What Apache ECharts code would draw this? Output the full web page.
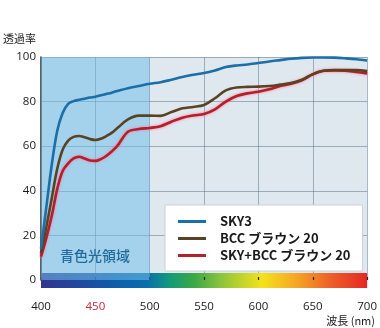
<!DOCTYPE html>
<html>
<head>
<meta charset="utf-8">
<script src="https://cdn.jsdelivr.net/npm/echarts@6/dist/echarts.min.js"></script>
<style>
  html, body { margin: 0; padding: 0; background: #ffffff; }
  #chart { width: 380px; height: 328px; }
</style>
</head>
<body>
<div id="chart"></div>
<script>
// Wavelength samples (nm)
const wavelengths = [400, 405, 410, 415, 420, 425, 430, 435, 440, 445, 450, 455, 460, 465, 470,
  480, 490, 500, 510, 520, 530, 540, 550, 560, 570, 580, 590, 600, 610, 620, 630, 640, 650,
  660, 670, 680, 690, 700];

// Transmittance (%) per lens
const sky3 = [14, 33, 52, 67, 75, 79, 80.2, 80.8, 81.3, 81.8, 82.2, 82.8, 83.4, 84, 84.7,
  86, 87, 88, 88.7, 89.8, 91, 92, 92.8, 94, 95.5, 96.2, 96.6, 97.3, 98, 98.6, 99.2, 99.6, 99.8,
  99.8, 99.7, 99.4, 99, 98.4];
const bccBrown20 = [12, 24, 37, 50, 58.5, 62.5, 64.2, 64.6, 64, 63.2, 62.8, 63.3, 64.5, 66, 68,
  72, 73.7, 73.7, 73.6, 75.3, 77, 77.6, 78.5, 81.5, 85, 86.3, 86.6, 86.7, 87, 87.6, 88.3, 89.8, 92.3,
  93.8, 94.2, 94.2, 94.1, 93.7];
const skyBccBrown20 = [10.5, 19, 29, 41, 49, 52.3, 54.5, 55.3, 54.5, 53.6, 53.4, 54.2, 55.6, 57.6, 60,
  66.5, 67.7, 68.2, 69, 71, 72.8, 73.8, 74.4, 76.5, 80, 82.5, 83.7, 84.4, 85.5, 87, 88, 89.6, 92.2,
  93.8, 94, 93.8, 93.3, 92.6];

const seriesNames = ['SKY3', 'BCC ブラウン 20', 'SKY+BCC ブラウン 20'];
const xTicks = [400, 450, 500, 550, 600, 650, 700];
const yTicks = [0, 20, 40, 60, 80, 100];
const blueBand = [400, 500];

const pairs = arr => wavelengths.map((w, i) => [w, arr[i]]);

const chart = echarts.init(document.getElementById('chart'), null, { renderer: 'canvas' });

// Visible-spectrum strip under the wavelength axis
const spectrum = new echarts.graphic.LinearGradient(0, 0, 1, 0, [
  { offset: 0.00, color: '#33318e' },
  { offset: 0.12, color: '#23469e' },
  { offset: 0.25, color: '#0c60ab' },
  { offset: 0.33, color: '#0a6eae' },
  { offset: 0.40, color: '#139a7a' },
  { offset: 0.47, color: '#3aa845' },
  { offset: 0.55, color: '#8cc43c' },
  { offset: 0.67, color: '#f4e31a' },
  { offset: 0.77, color: '#f5a623' },
  { offset: 0.87, color: '#ee6028' },
  { offset: 1.00, color: '#e21b24' }
]);

const labelFont = '"Open Sans", "Noto Sans", sans-serif';
const cjkFont = '"Noto Sans CJK JP", "Noto Sans", sans-serif';
const gridColor = 'rgba(70,100,125,0.45)';

chart.setOption({
  animation: false,
  color: ['#1b6ea6', '#5a4322', '#b31f2d'],
  grid: {
    left: 41, right: 11, top: 57, bottom: 48,
    show: true, backgroundColor: '#dfe8ef', borderWidth: 0
  },
  legend: {
    data: seriesNames,
    orient: 'vertical',
    left: 165, top: 205,
    padding: [10, 12, 9, 13],
    backgroundColor: '#ffffff',
    borderColor: '#c9d2d9', borderWidth: 1,
    icon: 'rect',
    itemWidth: 28, itemHeight: 3,
    itemGap: 4,
    textStyle: {
      fontFamily: cjkFont, fontSize: 13, fontWeight: 'bold', color: '#1a1a1a',
      padding: [0, 0, 0, 9]
    }
  },
  xAxis: [{
    type: 'value', min: 400, max: 700, interval: 50,
    position: 'bottom', offset: 7.5,
    axisLine: { show: true, lineStyle: { color: spectrum, width: 15, cap: 'butt' } },
    axisTick: { show: false },
    splitLine: { show: false },
    axisLabel: {
      margin: 13, fontFamily: labelFont, fontSize: 11.5,
      formatter: v => xTicks.includes(v) ? (v === 450 ? '{r|' + v + '}' : String(v)) : '',
      color: '#1a1a1a',
      rich: { r: { color: '#c8283c', fontFamily: labelFont, fontSize: 11.5 } }
    }
  }, {
    type: 'value', min: 400, max: 700, interval: 50,
    position: 'bottom', offset: 0,
    axisLine: { show: false },
    axisTick: { show: true, inside: true, length: 3, lineStyle: { color: '#222', width: 1.2 } },
    axisLabel: { show: false },
    splitLine: { show: true, lineStyle: { color: gridColor, width: 1 } }
  }],
  yAxis: {
    type: 'value', min: 0, max: 100, interval: 20,
    axisLine: { show: true, lineStyle: { color: '#2b2b2b', width: 1.5 } },
    axisTick: { show: false },
    axisLabel: {
      margin: 5, fontFamily: labelFont, fontSize: 11.5, color: '#1a1a1a',
      formatter: v => yTicks.includes(v) ? String(v) : ''
    },
    splitLine: { show: true, lineStyle: { color: gridColor, width: 1 } }
  },
  series: [{
    name: seriesNames[0], type: 'line', data: pairs(sky3),
    smooth: 0.35, showSymbol: false, z: 5,
    lineStyle: { width: 2.6, color: '#1b6ea6' },
    markArea: {
      silent: true,
      itemStyle: { color: 'rgba(115,190,231,0.55)' },
      data: [[{ xAxis: blueBand[0] }, { xAxis: blueBand[1] }]]
    }
  }, {
    name: seriesNames[1], type: 'line', data: pairs(bccBrown20),
    smooth: 0.35, showSymbol: false, z: 4,
    lineStyle: { width: 2.6, color: '#5a4322' }
  }, {
    name: seriesNames[2], type: 'line', data: pairs(skyBccBrown20),
    smooth: 0.35, showSymbol: false, z: 3,
    lineStyle: { width: 2.6, color: '#b31f2d', shadowBlur: 3, shadowColor: 'rgba(255,120,145,1)' }
  }],
  graphic: [{
    type: 'text', left: 3, top: 33, z: 100,
    style: { text: '透過率', font: '11px ' + cjkFont, fill: '#1a1a1a' }
  }, {
    type: 'text', right: 5, top: 315, z: 100,
    style: { text: '波長 (nm)', font: '11px ' + cjkFont, fill: '#1a1a1a' }
  }, {
    type: 'text', left: 60, top: 249, z: 100,
    style: { text: '青色光領域', font: '500 14px ' + cjkFont, fill: '#1f6c9c' }
  }]
});
</script>
</body>
</html>
